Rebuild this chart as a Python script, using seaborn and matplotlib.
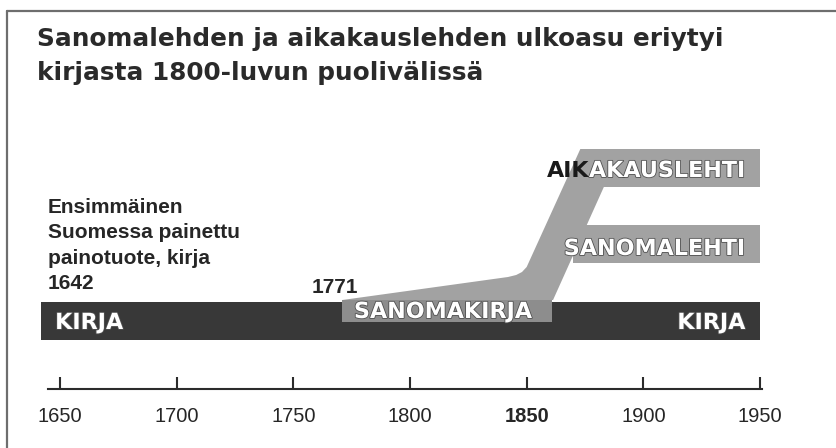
import matplotlib
matplotlib.use('Agg')
import matplotlib.pyplot as plt
import matplotlib.patheffects as pe
from matplotlib.lines import Line2D
import seaborn as sns

# ==========================
# Data
# ==========================
TITLE = "Sanomalehden ja aikakauslehden ulkoasu eriytyi\nkirjasta 1800-luvun puolivälissä"
NOTE = "Ensimmäinen\nSuomessa painettu\npainotuote, kirja\n1642"

TICK_YEARS = [1650, 1700, 1750, 1800, 1850, 1900, 1950]
BOLD_YEAR = 1850

# KIRJA runs through the whole period
BOOK_START = 1642
BOOK_END = 1950

# SANOMAKIRJA from 1771
NEWSBOOK_START = 1771
NEWSBOOK_END = 1861

# branch rising from the sanomakirja towards the periodicals (outline in years)
BRANCH_YEARS = [1771, 1842, 1845.5, 1848, 1850, 1873, 1890.4, 1861.3]

# periodicals that split off
PERIODICALS = ["AIKAKAUSLEHTI", "SANOMALEHTI"]
PERIODICAL_START = [1880, 1870]
PERIODICAL_END = [1950, 1950]

# ==========================
# Layout (pixels from top)
# ==========================
W, H = 837, 448
PX_PER_YEAR = 7 / 3
X0_PX = 60            # where 1650 sits
BOOK_Y, BAR_H = 321, 38
NEWSBOOK_Y, NEWSBOOK_H = 311, 22
LANE_Y = [168, 244]
BRANCH_LEVELS = [300, 277, 275, 272, 267, 149, 149, 300]
AXIS_Y = 389

DARK = '#383838'
LIGHT = '#a2a2a2'
MID = '#8d8d8d'
TEXT = '#262626'

sns.set_theme(style='white')
plt.rcParams['font.family'] = ['Liberation Sans', 'DejaVu Sans']

fig = plt.figure(figsize=(W / 100, H / 100), dpi=100)
ax = fig.add_axes([0, 0, 1, 1])
ax.set_xlim(1650 - X0_PX / PX_PER_YEAR, 1650 + (W - X0_PX) / PX_PER_YEAR)
ax.set_ylim(H, 0)
ax.set_facecolor('white')

# frame (top and left edge only)
fig.add_artist(Line2D([7 / W, 1], [1 - 11 / H, 1 - 11 / H], transform=fig.transFigure,
                      color='#6e6e6e', lw=1.6))
fig.add_artist(Line2D([7 / W, 7 / W], [0, 1 - 11 / H], transform=fig.transFigure,
                      color='#6e6e6e', lw=1.6))

# main book bar
ax.barh(BOOK_Y, BOOK_END - BOOK_START, left=BOOK_START, height=BAR_H,
        color=DARK, linewidth=0)

# branch and periodical lanes
ax.fill(BRANCH_YEARS, BRANCH_LEVELS, color=LIGHT, linewidth=0)
for name, y, s, e in zip(PERIODICALS, LANE_Y, PERIODICAL_START, PERIODICAL_END):
    ax.barh(y, e - s, left=s, height=BAR_H, color=LIGHT, linewidth=0)

# sanomakirja band over the book bar
ax.barh(NEWSBOOK_Y, NEWSBOOK_END - NEWSBOOK_START, left=NEWSBOOK_START,
        height=NEWSBOOK_H, color=MID, linewidth=0)

# white labels
label_kw = dict(family='DejaVu Sans', fontweight='bold', fontsize=16, color='white',
                va='baseline',
                path_effects=[pe.withStroke(linewidth=1.2, foreground='#505050')])
ax.text(1647.9, 329, "KIRJA", ha='left', **label_kw)
ax.text(1943.6, 329, "KIRJA", ha='right', **label_kw)
ax.text(1814.1, 318, "SANOMAKIRJA", ha='center', **label_kw)
ax.text(1943.6, 255, PERIODICALS[1], ha='right', **label_kw)
aka = ax.text(1943.6, 177, PERIODICALS[0][3:], ha='right', **label_kw)
ax.annotate(PERIODICALS[0][:3], xy=(0, 0), xycoords=aka, ha='right', va='bottom',
            family='DejaVu Sans', fontweight='bold', fontsize=16, color='#1a1a1a')

# dark annotations
ax.text(NEWSBOOK_START - 3, 293, "1771", ha='center', va='baseline',
        fontsize=15, fontweight='bold', color=TEXT)
ax.text(1644.9, 198, NOTE, ha='left', va='top', fontsize=15, fontweight='bold',
        color=TEXT, linespacing=1.43)

# title
fig.text(37 / W, 1 - 27 / H, TITLE, ha='left', va='top', family='DejaVu Sans',
         fontsize=17.8, fontweight='bold', color='#2a2a2a', linespacing=1.55)

# timeline axis
for side in ['top', 'left', 'right']:
    ax.spines[side].set_visible(False)
ax.spines['bottom'].set_position(('data', AXIS_Y))
ax.spines['bottom'].set_bounds(1645, 1950.8)
ax.spines['bottom'].set_color('#2b2b2b')
ax.spines['bottom'].set_linewidth(1.5)
ax.set_xticks(TICK_YEARS)
ax.set_xticklabels([str(y) for y in TICK_YEARS])
ax.set_yticks([])
ax.tick_params(axis='x', bottom=True, direction='in', length=8.6, width=1.5,
               color='#2b2b2b', pad=13, labelsize=14.5, labelcolor=TEXT)
for lab, y in zip(ax.get_xticklabels(), TICK_YEARS):
    if y == BOLD_YEAR:
        lab.set_fontweight('bold')

fig.savefig('out.png', dpi=100, facecolor='white')
